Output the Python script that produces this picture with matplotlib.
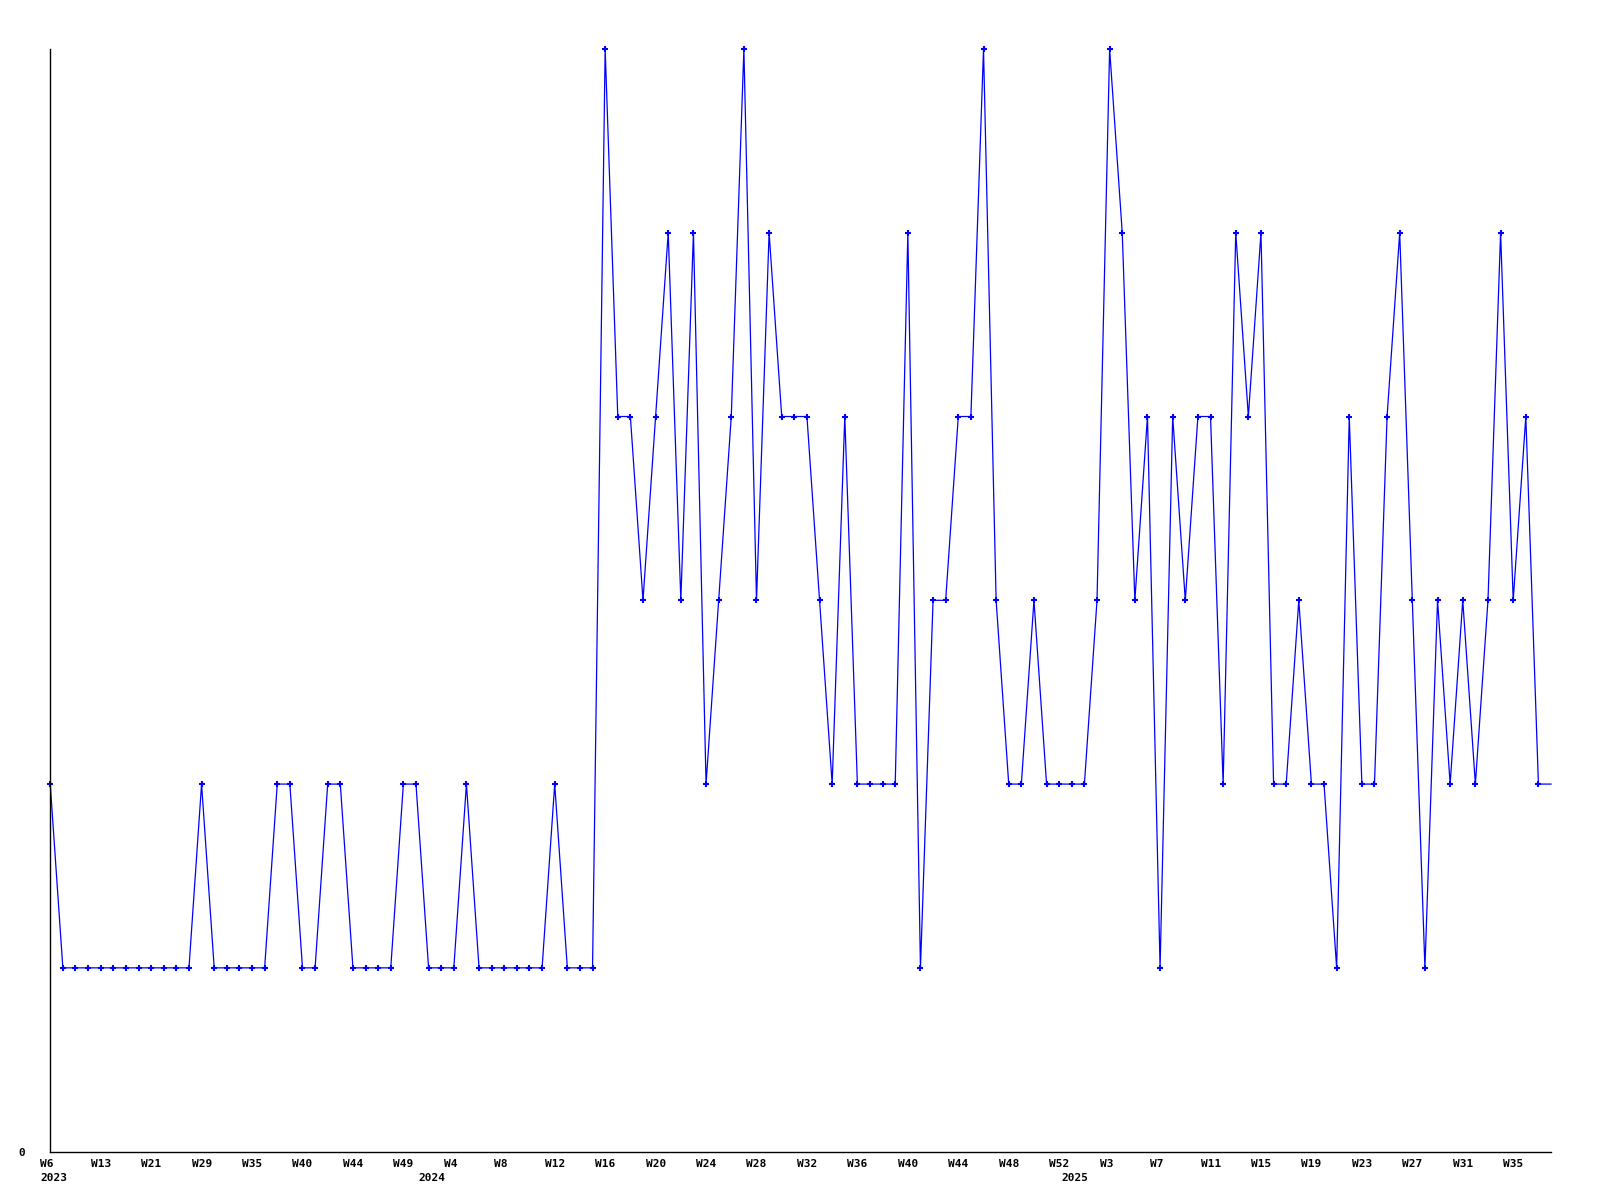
import matplotlib
matplotlib.use("Agg")
import matplotlib.pyplot as plt
import matplotlib.transforms as mtransforms
import numpy as np

# weekly values, one per data point
values = [2, 1, 1, 1, 1, 1, 1, 1, 1, 1, 1, 1, 2, 1, 1, 1, 1, 1, 2, 2,
          1, 1, 2, 2, 1, 1, 1, 1, 2, 2, 1, 1, 1, 2, 1, 1, 1, 1, 1, 1,
          2, 1, 1, 1, 6, 4, 4, 3, 4, 5, 3, 5, 2, 3, 4, 6, 3, 5, 4, 4,
          4, 3, 2, 4, 2, 2, 2, 2, 5, 1, 3, 3, 4, 4, 6, 3, 2, 2, 3, 2,
          2, 2, 2, 3, 6, 5, 3, 4, 1, 4, 3, 4, 4, 2, 5, 4, 5, 2, 2, 3,
          2, 2, 1, 4, 2, 2, 4, 5, 3, 1, 3, 2, 3, 2, 3, 5, 3, 4, 2, 2]

week_labels = ["W6", "W13", "W21", "W29", "W35", "W40", "W44", "W49", "W4", "W8",
               "W12", "W16", "W20", "W24", "W28", "W32", "W36", "W40", "W44", "W48",
               "W52", "W3", "W7", "W11", "W15", "W19", "W23", "W27", "W31", "W35"]
label_step = 4

years = ["2023", "2024", "2025"]
year_idx = [0, 30, 81]

blue = "#0000ff"
font = dict(family="DejaVu Sans Mono", weight="bold", size=8)

fig = plt.figure(figsize=(16, 12), dpi=100)
ax = fig.add_axes([0.0314, 0.0403, 0.938, 0.9189])

x = np.arange(len(values))
# last point is drawn without a marker, the line just runs to the edge
ax.plot(x, values, color=blue, lw=0.9, marker="+", ms=4.5, mew=1.5,
        markevery=list(range(len(values) - 1)), clip_on=False)

ax.set_xlim(0, len(values) - 1)
ax.set_ylim(0, 6)

for s in ["top", "right"]:
    ax.spines[s].set_visible(False)
for s in ["left", "bottom"]:
    ax.spines[s].set_color("black")
    ax.spines[s].set_linewidth(1.0)

ax.set_yticks([0])
ax.set_yticklabels(["0"], fontdict=font)
ax.tick_params(axis="y", length=0, pad=18)

ax.set_xticks(x[::label_step][:len(week_labels)])
ax.set_xticklabels(week_labels, fontdict=font, ha="left")
ax.tick_params(axis="x", length=0, pad=5)
offset = mtransforms.ScaledTranslation(-0.10, 0, fig.dpi_scale_trans)
for lbl in ax.get_xticklabels():
    lbl.set_transform(lbl.get_transform() + offset)

ytrans = mtransforms.blended_transform_factory(ax.transData, ax.transAxes)
for yr, i in zip(years, year_idx):
    ax.text(i, -0.0235, yr, transform=ytrans + offset, ha="left", va="center", **font)

fig.savefig("out.png", dpi=100)
